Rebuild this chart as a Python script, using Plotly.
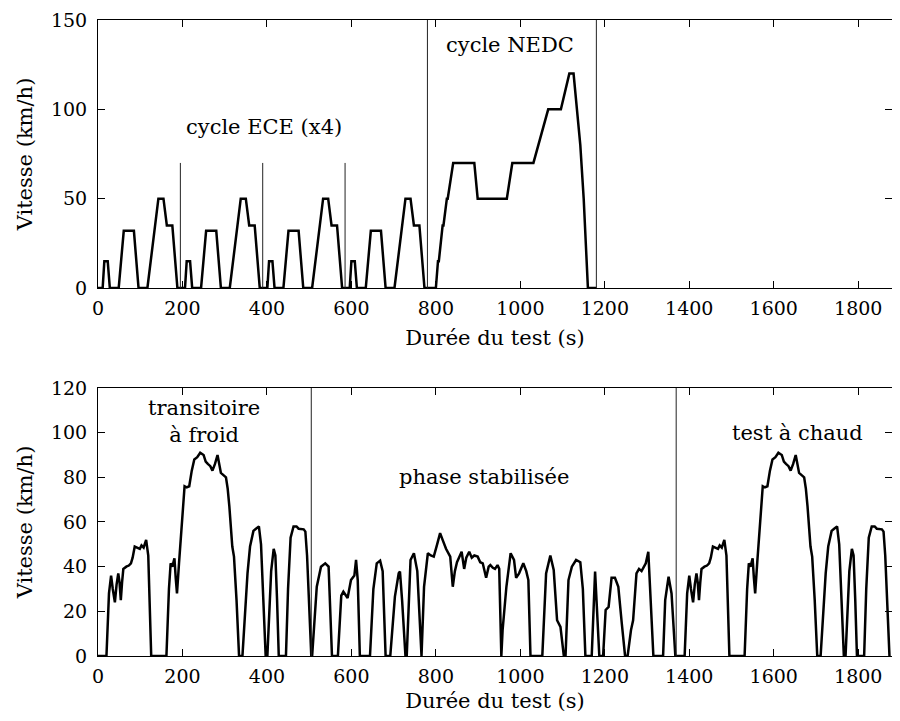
import plotly.graph_objects as go
from plotly.subplots import make_subplots

# NEDC cycle: breakpoints (s, km/h) - 4 ECE urban cycles then EUDC
nedc_t = [0, 11, 15, 23, 28, 49, 61, 85, 96, 117, 143, 155, 163, 176, 188,
          195, 206, 210, 218, 223, 244, 256, 280, 291, 312, 338, 350, 358, 371, 383,
          390, 401, 405, 413, 418, 439, 451, 475, 486, 507, 533, 545, 553, 566, 578,
          585, 596, 600, 608, 613, 634, 646, 670, 681, 702, 728, 740, 748, 761, 773,
          780, 800, 805, 807, 816, 818, 826, 828, 841, 891, 899, 968, 981, 1031,
          1066, 1096, 1116, 1126, 1142, 1150, 1160, 1180]
nedc_v = [0, 0, 15, 15, 0, 0, 32, 32, 0, 0, 50, 50, 35, 35, 0,
          0, 0, 15, 15, 0, 0, 32, 32, 0, 0, 50, 50, 35, 35, 0,
          0, 0, 15, 15, 0, 0, 32, 32, 0, 0, 50, 50, 35, 35, 0,
          0, 0, 15, 15, 0, 0, 32, 32, 0, 0, 50, 50, 35, 35, 0,
          0, 0, 15, 15, 35, 35, 50, 50, 70, 70, 50, 50, 70, 70,
          100, 100, 120, 120, 80, 50, 0, 0]

# FTP-75 cycle: breakpoints
ftp_t = [0, 20, 26, 31, 35, 40, 44, 48, 51, 54, 57, 60, 67, 73, 78, 82, 87, 95, 99, 103, 108, 114, 119, 126,
         162, 168, 172, 176, 181, 184, 187, 192, 198, 202, 205, 210, 216, 222, 228, 235, 242, 250, 255,
         260, 266, 271, 277, 283, 287, 291, 297, 303, 307, 311, 318, 322, 328, 334,
         342, 348, 354, 360, 368, 374, 381, 386, 392, 397, 401, 406, 410, 416, 420, 424, 428,
         445, 450, 456, 463, 470, 475, 487, 491, 495, 501, 505,
         507, 518, 528, 538, 546, 554, 568, 576, 581, 591, 599, 607, 611, 615, 620, 644, 652, 660, 668,
         674, 681, 692, 703, 712, 715, 720, 728, 731, 740, 748, 756, 766, 772, 781, 788, 795, 803, 810,
         816, 824, 834, 840, 845, 850, 861, 867, 872, 879, 885, 891, 899, 905, 911, 919, 925, 929, 935,
         940, 946, 950, 955, 958, 967, 977, 985, 990, 997, 1007, 1014, 1019, 1024, 1052, 1061, 1071,
         1079, 1084, 1087, 1095, 1103, 1107, 1114, 1122, 1132, 1142, 1148, 1154, 1169, 1177, 1187,
         1196, 1202, 1209, 1216, 1224, 1232, 1240, 1248, 1254, 1262, 1267, 1275, 1281, 1287, 1297,
         1303, 1315, 1338, 1343, 1351, 1358, 1367,
         1369, 1389, 1395, 1400, 1404, 1409, 1413, 1417, 1420, 1423, 1426, 1429, 1436, 1442, 1447, 1451,
         1456, 1464, 1468, 1472, 1477, 1483, 1488, 1495,
         1531, 1537, 1541, 1545, 1550, 1553, 1556, 1561, 1567, 1571, 1574, 1579, 1585, 1591, 1597, 1604,
         1611, 1619, 1624, 1629, 1635, 1640, 1646, 1652, 1656, 1660, 1666, 1672, 1676, 1680, 1687,
         1691, 1697, 1703, 1711, 1717, 1723, 1729, 1737, 1743, 1750, 1755, 1761, 1766, 1770, 1775,
         1779, 1785, 1789, 1793, 1797, 1814, 1819, 1825, 1832, 1839, 1844, 1856, 1860, 1864, 1870, 1874]
ftp_v = [0, 0, 28, 36, 30, 24, 32, 37, 33, 25, 33, 39, 40, 40.5, 41.5, 44, 49, 48.5, 48, 49.5, 48.5, 52, 45, 0,
         0, 30, 41.5, 40, 43.7, 35, 28, 42, 58, 70, 76, 75.5, 76, 83, 88, 89, 91, 90, 87,
         86, 85, 83, 86, 90, 86, 82, 81, 80, 75, 67, 49, 44.5, 25, 0,
         0, 20, 37, 49, 56, 57, 58, 50, 25, 0, 0, 25, 38, 48, 45, 25, 0,
         0, 30, 53, 58, 58, 57, 56.7, 55.7, 45, 20, 0,
         0, 31, 40, 41.5, 40, 0, 0, 27, 28.8, 26, 34, 36, 43, 34, 0, 0, 30, 41.5, 42.7,
         38, 0, 0, 26.6, 37, 37.8, 25, 0, 0, 43, 46, 38, 0, 31, 46, 45, 44.5, 50, 55,
         52, 48, 44.5, 31, 38, 42, 46.7, 39, 44, 46.7, 44, 45, 44.5, 42, 41.5, 35, 40, 40.7, 39.5,
         39, 40.7, 39, 0, 11.6, 31, 46, 43, 35, 37, 41.5, 38, 34, 0, 0, 37, 45,
         38.5, 22, 16, 13, 0, 0, 34, 40, 43, 42, 30, 0, 0, 37.8, 0,
         0, 20.6, 22, 35, 35, 31, 15, 0, 0, 11.6, 16, 37, 39, 38, 41.5,
         46.7, 0, 0, 25, 35.5, 28, 0,
         0, 0, 28, 36, 30, 24, 32, 37, 33, 25, 33, 39, 40, 40.5, 41.5, 44,
         49, 48.5, 48, 49.5, 48.5, 52, 45, 0,
         0, 30, 41.5, 40, 43.7, 35, 28, 42, 58, 70, 76, 75.5, 76, 83, 88, 89,
         91, 90, 87, 86, 85, 83, 86, 90, 86, 82, 81, 80, 75, 67, 49,
         44.5, 25, 0, 0, 20, 37, 49, 56, 57, 58, 50, 25, 0, 0, 25,
         38, 48, 45, 25, 0, 0, 30, 53, 58, 58, 57, 56.7, 55.7, 45, 20, 0]

# separators between phases
ece_sep = [195, 390, 585]
nedc_sep = [780, 1180]
ftp_sep = [505, 1369]

x_ticks = [0, 200, 400, 600, 800, 1000, 1200, 1400, 1600, 1800]

FONT = "DejaVu Serif"
TICK_SIZE = 19
TEXT_SIZE = 21

fig = make_subplots(rows=2, cols=1)

fig.add_trace(go.Scatter(x=nedc_t, y=nedc_v, mode='lines',
                         line=dict(color='black', width=2.5)), row=1, col=1)
fig.add_trace(go.Scatter(x=ftp_t, y=ftp_v, mode='lines',
                         line=dict(color='black', width=2.5)), row=2, col=1)

# vertical phase lines
for s in ece_sep:
    fig.add_shape(type='line', xref='x', yref='y', x0=s, x1=s, y0=0, y1=70,
                  line=dict(color='#222222', width=1))
for s in nedc_sep:
    fig.add_shape(type='line', xref='x', yref='y', x0=s, x1=s, y0=0, y1=150,
                  line=dict(color='#222222', width=1))
for s in ftp_sep:
    fig.add_shape(type='line', xref='x2', yref='y2', x0=s, x1=s, y0=0, y1=120,
                  line=dict(color='#222222', width=1))

# labels for the phases
txt = dict(showarrow=False, font=dict(family=FONT, size=TEXT_SIZE, color='black'))
fig.add_annotation(x=393, y=90, xref='x', yref='y', text='cycle ECE (x4)', **txt)
fig.add_annotation(x=976, y=136, xref='x', yref='y', text='cycle NEDC', **txt)
fig.add_annotation(x=252, y=105, xref='x2', yref='y2', text='transitoire<br>à froid', **txt)
fig.add_annotation(x=913, y=80, xref='x2', yref='y2', text='phase stabilisée', **txt)
fig.add_annotation(x=1657, y=100, xref='x2', yref='y2', text='test à chaud', **txt)

axis_style = dict(showline=True, linecolor='black', linewidth=1, mirror='allticks',
                  ticks='inside', ticklen=7, tickcolor='black', showgrid=False,
                  zeroline=False, automargin=False,
                  tickfont=dict(family=FONT, size=TICK_SIZE, color='black'))

fig.update_xaxes(range=[0, 1880], tickvals=x_ticks, ticklabelstandoff=3,
                 title=dict(text='Durée du test (s)', standoff=12,
                            font=dict(family=FONT, size=TEXT_SIZE, color='black')),
                 **axis_style)
fig.update_yaxes(title=dict(text='Vitesse (km/h)', standoff=12,
                            font=dict(family=FONT, size=TEXT_SIZE, color='black')),
                 ticklabelstandoff=6, **axis_style)
fig.update_yaxes(range=[0, 150], tickvals=[0, 50, 100, 150], domain=[0.5786, 1.0], row=1, col=1)
fig.update_yaxes(range=[0, 120], tickvals=[0, 20, 40, 60, 80, 100, 120], domain=[0.0, 0.4214], row=2, col=1)

# the page body adds 8px around the figure, so keep it inside the 900x721 window
fig.update_layout(width=884, height=705, showlegend=False,
                  margin=dict(l=90, r=0, t=12, b=57),
                  plot_bgcolor='white', paper_bgcolor='white',
                  font=dict(family=FONT, color='black'))

fig.write_html("out.html")
